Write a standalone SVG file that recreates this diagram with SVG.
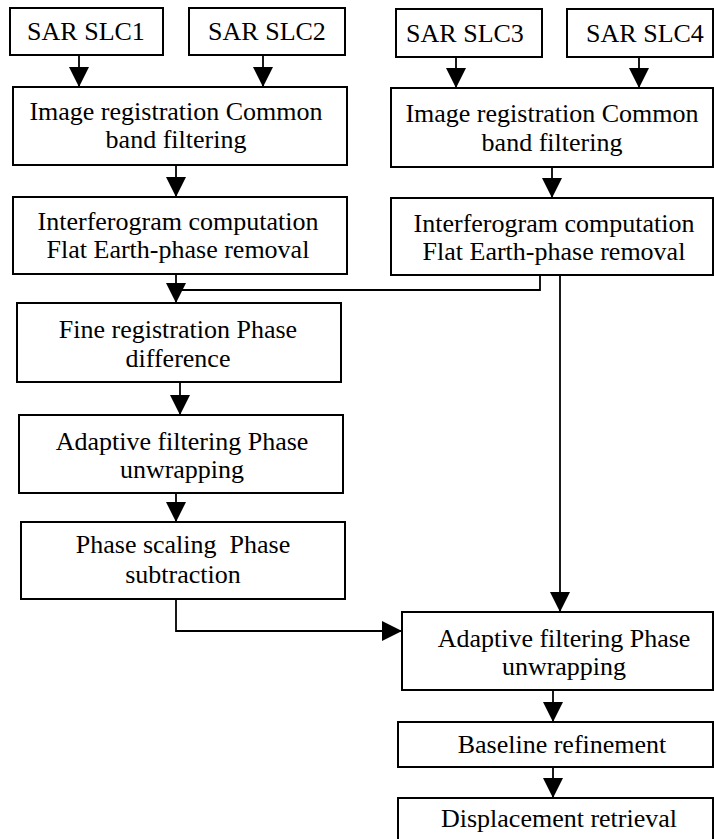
<svg xmlns="http://www.w3.org/2000/svg" width="714" height="839" viewBox="0 0 714 839">
  <style>
    .box { fill: #fff; stroke: #000; stroke-width: 2; }
    .lbl { font-family: 'Liberation Serif', 'Times New Roman', 'DejaVu Serif', serif; font-size: 26px; fill: #000; text-anchor: middle; }
    .conn { fill: none; stroke: #000; stroke-width: 1.8; }
  </style>
  <defs>
    <marker id="arrow" viewBox="0 0 20 20" refX="20" refY="10" markerWidth="20" markerHeight="20" markerUnits="userSpaceOnUse" orient="auto">
      <path d="M0,0 L20,10 L0,20 z" fill="#000"/>
    </marker>
  </defs>

  <rect width="714" height="839" fill="#fff"/>

  <!-- connectors -->
  <g id="connectors">
    <line class="conn" x1="79" y1="55" x2="79" y2="87" marker-end="url(#arrow)"/>
    <line class="conn" x1="263" y1="55" x2="263" y2="87" marker-end="url(#arrow)"/>
    <line class="conn" x1="456" y1="57" x2="456" y2="88" marker-end="url(#arrow)"/>
    <line class="conn" x1="639" y1="57" x2="639" y2="88" marker-end="url(#arrow)"/>
    <line class="conn" x1="176" y1="165" x2="176" y2="197" marker-end="url(#arrow)"/>
    <line class="conn" x1="552" y1="167" x2="552" y2="198" marker-end="url(#arrow)"/>
    <line class="conn" x1="176" y1="274" x2="176" y2="303" marker-end="url(#arrow)"/>
    <path class="conn" d="M540,275 V290 H176"/>
    <line class="conn" x1="560" y1="275" x2="560" y2="612" marker-end="url(#arrow)"/>
    <line class="conn" x1="180" y1="382" x2="180" y2="415" marker-end="url(#arrow)"/>
    <line class="conn" x1="176" y1="493" x2="176" y2="522" marker-end="url(#arrow)"/>
    <path class="conn" d="M176,599 V631 H402" marker-end="url(#arrow)"/>
    <line class="conn" x1="553" y1="690" x2="553" y2="722" marker-end="url(#arrow)"/>
    <line class="conn" x1="553" y1="767" x2="553" y2="798" marker-end="url(#arrow)"/>
  </g>

  <!-- nodes -->
  <g id="slc1">
    <rect class="box" x="10" y="8" width="153" height="47"/>
    <text class="lbl" x="86" y="40">SAR SLC1</text>
  </g>
  <g id="slc2">
    <rect class="box" x="189" y="8" width="156" height="47"/>
    <text class="lbl" x="267" y="40">SAR SLC2</text>
  </g>
  <g id="slc3">
    <rect class="box" x="396" y="9" width="146" height="48"/>
    <text class="lbl" x="465" y="42">SAR SLC3</text>
  </g>
  <g id="slc4">
    <rect class="box" x="567" y="9" width="146" height="48"/>
    <text class="lbl" x="645" y="42">SAR SLC4</text>
  </g>

  <g id="registration-left">
    <rect class="box" x="13" y="87" width="334" height="78"/>
    <text class="lbl" x="176" y="120">Image registration Common</text>
    <text class="lbl" x="176" y="148">band filtering</text>
  </g>
  <g id="registration-right">
    <rect class="box" x="391" y="88" width="322" height="79"/>
    <text class="lbl" x="552" y="122">Image registration Common</text>
    <text class="lbl" x="552" y="151">band filtering</text>
  </g>

  <g id="interferogram-left">
    <rect class="box" x="13" y="197" width="334" height="77"/>
    <text class="lbl" x="178" y="230">Interferogram computation</text>
    <text class="lbl" x="178" y="258">Flat Earth-phase removal</text>
  </g>
  <g id="interferogram-right">
    <rect class="box" x="391" y="198" width="322" height="77"/>
    <text class="lbl" x="554" y="232">Interferogram computation</text>
    <text class="lbl" x="554" y="260">Flat Earth-phase removal</text>
  </g>

  <g id="fine-registration">
    <rect class="box" x="17" y="303" width="324" height="79"/>
    <text class="lbl" x="178" y="338">Fine registration Phase</text>
    <text class="lbl" x="178" y="367">difference</text>
  </g>
  <g id="adaptive-left">
    <rect class="box" x="19" y="415" width="324" height="78"/>
    <text class="lbl" x="182" y="450">Adaptive filtering Phase</text>
    <text class="lbl" x="182" y="478">unwrapping</text>
  </g>
  <g id="phase-scaling">
    <rect class="box" x="21" y="522" width="324" height="77"/>
    <text class="lbl" x="183" y="553" xml:space="preserve">Phase scaling  Phase</text>
    <text class="lbl" x="183" y="583">subtraction</text>
  </g>

  <g id="adaptive-right">
    <rect class="box" x="402" y="612" width="311" height="78"/>
    <text class="lbl" x="564" y="647">Adaptive filtering Phase</text>
    <text class="lbl" x="564" y="675">unwrapping</text>
  </g>
  <g id="baseline">
    <rect class="box" x="398" y="722" width="315" height="45"/>
    <text class="lbl" x="562" y="753">Baseline refinement</text>
  </g>
  <g id="displacement">
    <rect class="box" x="398" y="798" width="315" height="60"/>
    <text class="lbl" x="559" y="827">Displacement retrieval</text>
  </g>
</svg>
